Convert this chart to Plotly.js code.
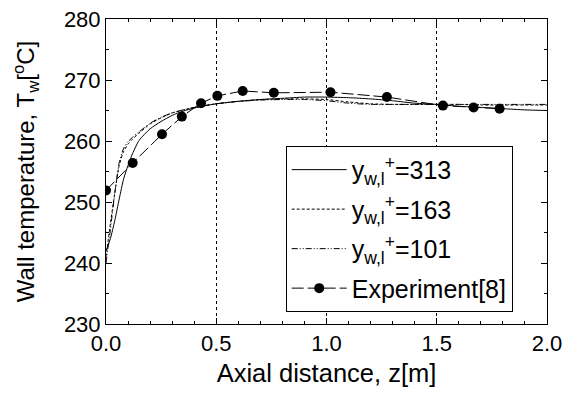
<!DOCTYPE html>
<html>
<head>
<meta charset="utf-8">
<script src="https://cdn.plot.ly/plotly-3.0.1.min.js"></script>
<style>html,body{margin:0;padding:0;background:#fff;}#chart{width:565px;height:399px;}</style>
</head>
<body>
<div id="chart"></div>
<script>
// Model axial positions [m]
const zModel = [0, 0.02, 0.04, 0.06, 0.08, 0.10, 0.12, 0.15, 0.20, 0.25, 0.30, 0.35, 0.40, 0.45, 0.50,
                0.60, 0.70, 0.80, 0.90, 1.00, 1.10, 1.20, 1.30, 1.40, 1.50, 1.60, 1.70, 1.80, 1.90, 2.00];
// Wall temperature, y_wl+ = 313
const tw313 = [242.0, 244.0, 247.0, 250.5, 253.8, 256.0, 257.9, 260.1, 262.0, 263.2, 264.2, 264.9, 265.4, 265.8, 266.1,
               266.5, 266.8, 267.0, 267.2, 267.2, 267.1, 266.9, 266.6, 266.2, 266.0, 265.7, 265.5, 265.3, 265.1, 265.0];
// Wall temperature, y_wl+ = 163
const tw163 = [241.0, 246.5, 251.5, 256.0, 258.3, 259.5, 260.3, 261.3, 262.8, 263.8, 264.6, 265.1, 265.5, 265.8, 266.1,
               266.5, 266.8, 266.9, 266.9, 266.8, 266.4, 266.1, 266.0, 266.0, 266.0, 266.0, 265.9, 265.9, 265.9, 265.9];
// Wall temperature, y_wl+ = 101
const tw101 = [240.0, 245.5, 251.5, 256.5, 258.8, 259.9, 260.6, 261.5, 262.9, 263.9, 264.6, 265.1, 265.5, 265.8, 266.1,
               266.5, 266.7, 266.8, 266.8, 266.6, 266.2, 266.0, 266.0, 266.0, 266.0, 266.0, 266.0, 266.0, 266.0, 266.0];
// Experiment [8]
const zExp  = [0.0, 0.121, 0.254, 0.344, 0.431, 0.505, 0.620, 0.761, 1.018, 1.274, 1.528, 1.667, 1.785];
const twExp = [251.9, 256.4, 261.1, 264.0, 266.2, 267.4, 268.2, 267.9, 268.0, 267.2, 265.8, 265.5, 265.3];

const names = ['y<sub>w,l</sub><sup>+</sup>=313', 'y<sub>w,l</sub><sup>+</sup>=163', 'y<sub>w,l</sub><sup>+</sup>=101', 'Experiment[8]'];
const xTickVals = [0, 0.5, 1.0, 1.5, 2.0];
const xTickText = ['0.0', '0.5', '1.0', '1.5', '2.0'];
const yTickVals = [230, 240, 250, 260, 270, 280];

const FONT = 'Liberation Sans, Arial, sans-serif';

const traces = [
  {x: zModel, y: tw313, name: names[0], legendgroup: 'a', mode: 'lines', line: {color: '#000', width: 1, dash: 'solid', shape: 'spline', smoothing: 0.6}},
  {x: zModel, y: tw163, name: names[1], legendgroup: 'b', mode: 'lines', line: {color: '#000', width: 1, dash: '3px,2px', shape: 'spline', smoothing: 0.6}},
  {x: zModel, y: tw101, name: names[2], legendgroup: 'c', mode: 'lines', line: {color: '#000', width: 1, dash: '6px,2px,1px,2px,1px,2px', shape: 'spline', smoothing: 0.6}},
  {x: zExp, y: twExp, name: names[3], legendgroup: 'd', mode: 'lines+markers', line: {color: '#000', width: 1, dash: '12px,4px'},
   marker: {symbol: 'circle', size: 10, color: '#000'}}
];

const layout = {
  width: 565, height: 399,
  margin: {l: 106, r: 18, t: 19, b: 75},
  paper_bgcolor: '#fff', plot_bgcolor: '#fff',
  font: {family: FONT, color: '#000', size: 22},
  showlegend: true,
  legend: {x: 0.4075, y: 0.584, xanchor: 'left', yanchor: 'top', bgcolor: '#fff', bordercolor: '#000', borderwidth: 1,
           font: {family: FONT, size: 25, color: '#000'}, itemwidth: 55, tracegroupgap: 4},
  xaxis: {
    range: [0, 2.0], tickvals: xTickVals, ticktext: xTickText, ticks: 'inside', ticklen: 6, tickwidth: 1, tickcolor: '#000',
    showline: true, linecolor: '#000', linewidth: 1, mirror: 'ticks', zeroline: false,
    showgrid: true, gridcolor: '#000', gridwidth: 1, griddash: 'dot',
    minor: {dtick: 0.1, ticks: 'inside', ticklen: 3, tickcolor: '#000', showgrid: false},
    tickfont: {family: FONT, size: 22},
    title: {text: 'Axial distance, z[m]', font: {family: FONT, size: 25.5}, standoff: 8}
  },
  yaxis: {
    range: [230, 280], tickvals: yTickVals, ticks: 'inside', ticklen: 6, tickwidth: 1, tickcolor: '#000',
    showline: true, linecolor: '#000', linewidth: 1, mirror: 'ticks', zeroline: false, showgrid: false,
    minor: {dtick: 5, ticks: 'inside', ticklen: 3, tickcolor: '#000', showgrid: false},
    tickfont: {family: FONT, size: 22},
    title: {text: 'Wall temperature, T<sub>w</sub>[<sup>o</sup>C]', font: {family: FONT, size: 24}, standoff: 22}
  }
};

Plotly.newPlot('chart', traces, layout, {staticPlot: true});
</script>
</body>
</html>
